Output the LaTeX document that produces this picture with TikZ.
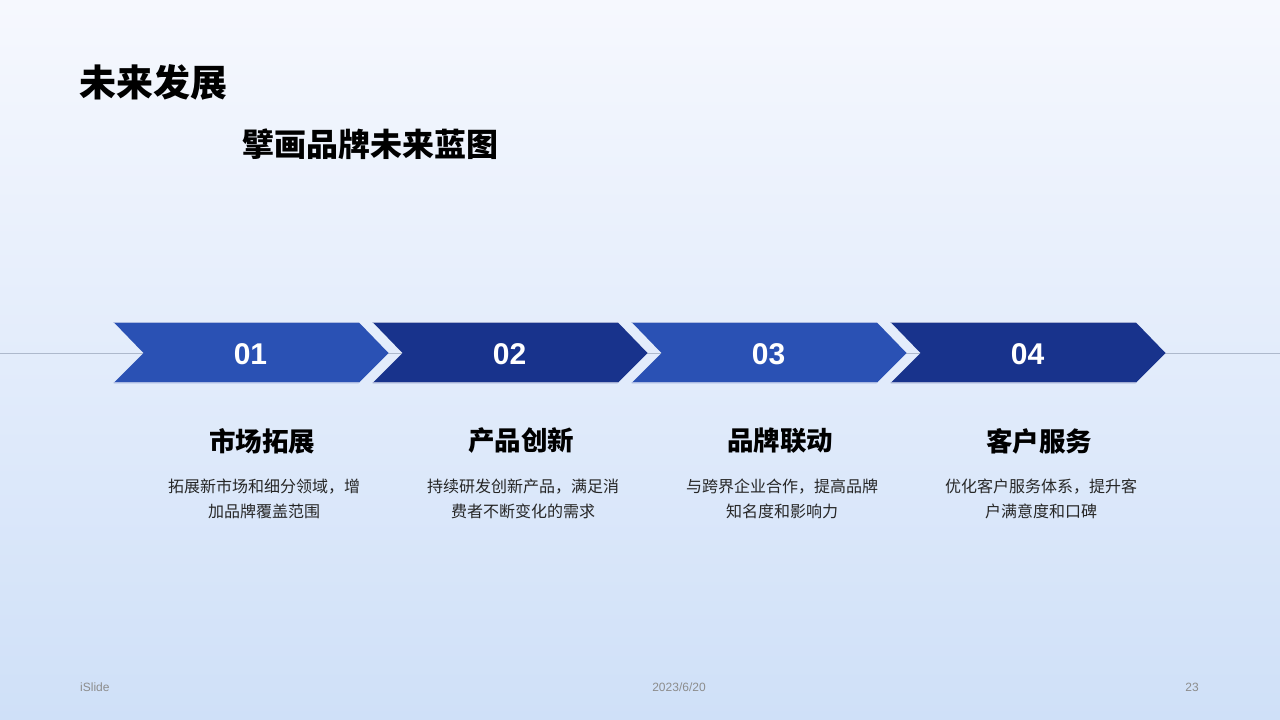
\documentclass[tikz,border=0pt]{standalone}
\usepackage{fontspec}
\setmainfont{Liberation Sans}
\newfontfamily\cjk{Noto Sans CJK SC}
\usetikzlibrary{calc}
\definecolor{bgtop}{HTML}{F6F8FE}
\definecolor{bgbot}{HTML}{CFE0F8}
\definecolor{chevA}{HTML}{2A51B4}
\definecolor{chevB}{HTML}{18338C}
\definecolor{axis}{HTML}{AEB9CC}
\definecolor{desc}{HTML}{262626}
\definecolor{foot}{HTML}{8C8C8C}
\tikzset{
  num/.style={text=white, font=\fontsize{30}{30}\selectfont\bfseries, inner sep=0pt},
  head/.style={font=\cjk\fontsize{26.5}{26.5}\selectfont\bfseries, text=black, inner sep=0pt},
  body/.style={font=\cjk\fontsize{16}{25}\selectfont, text=desc, align=center, inner sep=0pt},
  footer/.style={font=\fontsize{12}{12}\selectfont, text=foot, inner sep=0pt},
}
\begin{document}
\begin{tikzpicture}[x=1pt,y=-1pt]
\useasboundingbox (0,0) rectangle (1280,720);
\shade[top color=bgtop, bottom color=bgbot] (0,0) rectangle (1280,720);
% axis line
\coordinate (axL) at (0,353);
\coordinate (axR) at (1280,353);
\draw[axis, line width=0.8pt] (axL) -- (axR);
% chevrons
\foreach \i/\c/\t/\h/\la/\lb in {
  0/chevA/01/市场拓展/拓展新市场和细分领域，增/加品牌覆盖范围,
  1/chevB/02/产品创新/持续研发创新产品，满足消/费者不断变化的需求,
  2/chevA/03/品牌联动/与跨界企业合作，提高品牌/知名度和影响力,
  3/chevB/04/客户服务/优化客户服务体系，提升客/户满意度和口碑}{
  \pgfmathsetmacro{\xo}{113.5+259*\i}
  \fill[\c] (\xo,322) -- ++(245,0) -- ++(30,31) -- ++(-30,30) -- ++(-245,0) -- ++(30,-30) -- cycle;
  \draw[white!60!\c, line width=0.6pt] (\xo,322.3) -- ++(245,0);
  \draw[white!60!\c, line width=0.6pt] (\xo,382.7) -- ++(245,0);
  \node[num] (n\i) at (\xo+137,354) {\t};
  \node[head] (h\i) at (\xo+148.5,441) {\h};
  \node[body] (d\i) at (\xo+150.5,498.5) {\la\\\lb};
}
% titles
\node[anchor=west, font=\cjk\fontsize{37}{37}\selectfont\bfseries, inner sep=0pt] (title) at (79,82) {未来发展};
\node[anchor=west, font=\cjk\fontsize{32}{32}\selectfont\bfseries, inner sep=0pt] (sub) at (242,144) {擘画品牌未来蓝图};
% footer
\node[footer, anchor=west] (f1) at (80,687) {iSlide};
\node[footer] (f2) at (679,687) {2023/6/20};
\node[footer, anchor=east] (f3) at (1199,687) {23};
\end{tikzpicture}
\end{document}
